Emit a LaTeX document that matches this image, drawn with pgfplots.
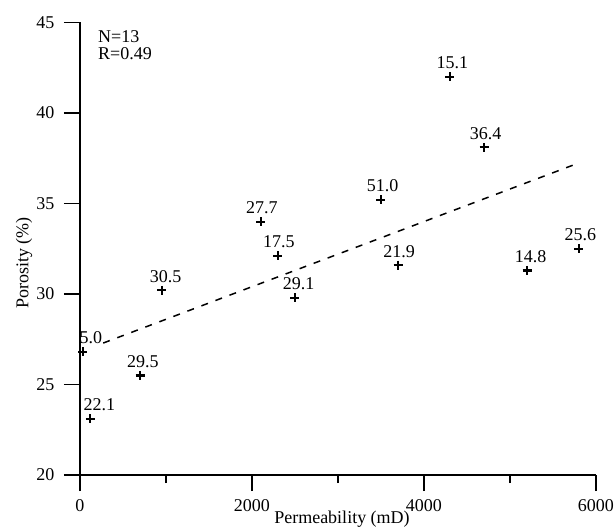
\documentclass[border=0pt]{standalone}
\usepackage{pgfplots}
\pgfplotsset{compat=1.18}
\usepackage{fontspec}
\setmainfont{Liberation Serif}
\begin{document}
\begin{tikzpicture}
\begin{axis}[
  name=ax,
  scale only axis,
  width=516pt, height=452.5pt,
  xmin=0, xmax=6000, ymin=20, ymax=45,
  axis x line*=bottom, axis y line*=left,
  axis line style={-, line width=1.6pt, black},
  every tick/.style={line width=1.6pt, black},
  tick align=outside,
  major tick length=16pt,
  minor tick length=8pt,
  xtick={0,2000,4000,6000},
  minor xtick={1000,3000,5000},
  ytick={20,25,30,35,40,45},
  scaled x ticks=false,
  /pgf/number format/assume math mode=true,
  /pgf/number format/1000 sep={},
  tick label style={font=\fontsize{18}{20}\selectfont},
  xticklabel style={yshift=-5pt},
  yticklabel style={xshift=-6pt},
  label style={font=\fontsize{18}{20}\selectfont},
  xlabel={Permeability (mD)},
  ylabel={Porosity (\%)},
  xlabel style={at={(axis description cs:0.5,0)}, anchor=base, yshift=-48pt, xshift=4pt},
  ylabel style={at={(axis description cs:-0.1085,0.4685)}, anchor=center},
  clip=false,
]
\addplot[black, dash pattern=on 7pt off 8pt, line width=1.5pt] coordinates {(270,27.29) (5800,37.24)};
\addplot[only marks, mark=+, mark size=4.5pt, mark options={line width=2.1pt, black},
  nodes near coords, point meta=explicit symbolic,
  visualization depends on={\thisrow{dx} \as \dx},
  nodes near coords style={anchor=base, xshift=\dx pt, yshift=8pt, inner sep=0pt, font=\fontsize{18}{20}\selectfont, text=black}]
  table[x=x, y=y, meta=lab] {
x y lab dx
4300 42.0 15.1 2.5
4700 38.1 36.4 1.5
3500 35.2 51.0 1.7
2100 34.0 27.7 1.3
2300 32.1 17.5 1
2500 29.8 29.1 3.6
3700 31.6 21.9 1
5200 31.3 14.8 3.4
5800 32.5 25.6 1.7
950 30.2 30.5 4
30 26.8 5.0 8.3
700 25.5 29.5 2.7
120 23.1 22.1 9
};
\node[anchor=north west, inner sep=0pt, align=left, font=\fontsize{18}{16.5}\selectfont] at (axis cs:209,44.55) {N=13\\R=0.49};
\end{axis}
\pgfresetboundingbox
\path ([shift={(-80pt,-53pt)}]ax.south west) rectangle ([shift={(534pt,475pt)}]ax.south west);
\end{tikzpicture}
\end{document}
